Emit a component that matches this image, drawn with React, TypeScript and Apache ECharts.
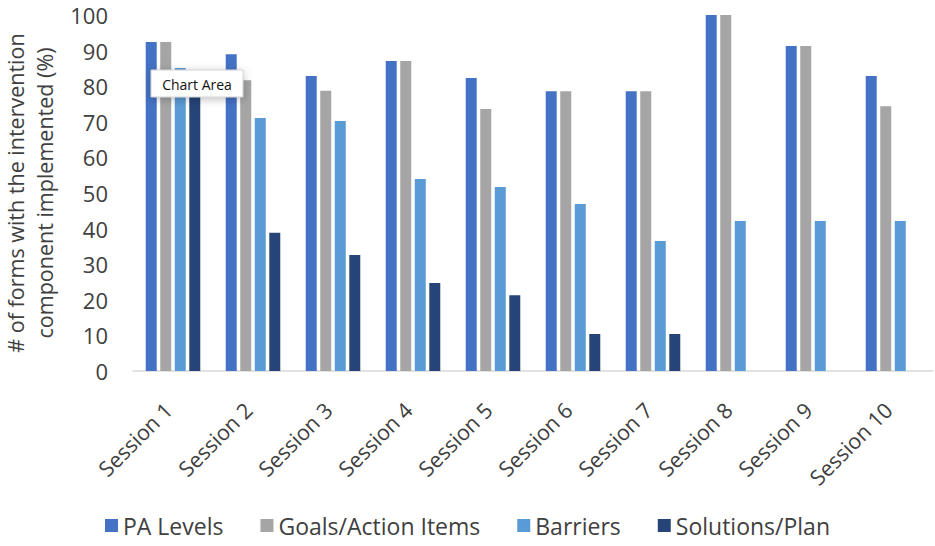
import React, { useEffect, useRef } from "react";
import * as echarts from "echarts";

const categories = ["Session 1", "Session 2", "Session 3", "Session 4", "Session 5", "Session 6", "Session 7", "Session 8", "Session 9", "Session 10"];
const paLevels = [92.4, 89.0, 82.9, 87.1, 82.3, 78.6, 78.6, 100, 91.3, 82.9];
const goalsActionItems = [92.4, 81.7, 78.7, 87.1, 73.6, 78.6, 78.6, 100, 91.3, 74.4];
const barriers = [85.1, 71.1, 70.2, 53.9, 51.7, 46.9, 36.5, 42.1, 42.1, 42.1];
const solutionsPlan = [80, 38.8, 32.6, 24.7, 21.3, 10.4, 10.4, 0, 0, 0];
const seriesNames = ["PA Levels", "Goals/Action Items", "Barriers", "Solutions/Plan"];
const colors = ["#4472C4", "#A5A5A5", "#5B9BD5", "#264478"];

const FONT = "Open Sans";
const TXT = "#404040";

export default function App() {
  const ref = useRef<HTMLDivElement>(null);
  useEffect(() => {
    document.body.style.margin = "0";
    const chart = echarts.init(ref.current!, null, { renderer: "svg" });
    const data = [paLevels, goalsActionItems, barriers, solutionsPlan];
    chart.setOption({
      animation: false,
      color: colors,
      textStyle: { fontFamily: FONT },
      grid: { left: 133, right: 2, top: 15, bottom: 175, containLabel: false, outerBoundsMode: "none" },
      legend: {
        bottom: 4,
        left: "center",
        itemWidth: 13,
        itemHeight: 13,
        itemGap: 37,
        icon: "rect",
        textStyle: { fontFamily: FONT, fontSize: 23, color: TXT },
        data: seriesNames,
      },
      xAxis: {
        type: "category",
        data: categories,
        axisLine: { lineStyle: { color: "#D9D9D9", width: 1.5 } },
        axisTick: { show: false },
        axisLabel: { rotate: 45, fontSize: 21.5, color: TXT, fontFamily: FONT, margin: 30, padding: [0, 7, 0, 0], interval: 0 },
      },
      yAxis: {
        type: "value",
        min: 0,
        max: 100,
        interval: 10,
        splitLine: { show: false },
        axisLine: { show: false },
        axisTick: { show: false },
        axisLabel: { fontSize: 22, color: TXT, fontFamily: FONT, margin: 25 },
        name: "# of forms with the intervention\ncomponent implemented (%)",
        nameLocation: "middle",
        nameGap: 73,
        nameTextStyle: { fontSize: 21.5, color: TXT, fontFamily: FONT, lineHeight: 29 },
      },
      series: data.map((d, i) => ({
        name: seriesNames[i],
        type: "bar",
        data: d,
        barWidth: 11,
        barGap: "32%",
        itemStyle: { color: colors[i] },
      })),
      graphic: [
        {
          type: "group",
          x: 151,
          y: 70,
          z: 100,
          children: [
            {
              type: "rect",
              z: 100,
              shape: { x: 0, y: 0, width: 92, height: 27 },
              style: { fill: "#FFFFFF", stroke: "#D0D0D0", lineWidth: 1, shadowBlur: 8, shadowColor: "rgba(0,0,0,0.25)", shadowOffsetY: 2 },
            },
            {
              type: "text",
              z: 101,
              x: 46,
              y: 14,
              style: { text: "Chart Area", fontFamily: FONT, fontSize: 14, fill: "#111111", align: "center", verticalAlign: "middle" },
            },
          ],
        },
      ],
    });
    return () => chart.dispose();
  }, []);
  return <div ref={ref} style={{ width: 935, height: 546 }} />;
}
